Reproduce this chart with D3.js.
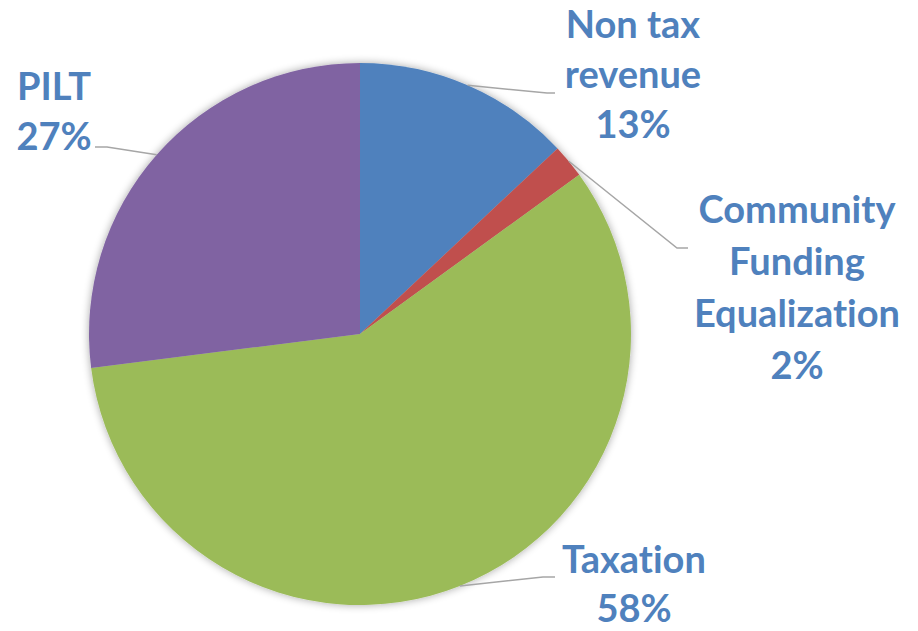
<!DOCTYPE html>
<html>
<head>
<meta charset="utf-8">
<script src="https://cdn.jsdelivr.net/npm/d3@7"></script>
<style>
    body { margin: 0; background: #fff; }
    .label { font-family: Lato, "Open Sans", sans-serif; font-weight: 700; fill: #4F81BD;
             font-variant-ligatures: none; font-feature-settings: "liga" 0, "dlig" 0; }
</style>
</head>
<body>
<div id="chart"></div>
<script>
// Revenue shares (percent)
var categories = ["Non tax revenue", "Community Funding Equalization", "Taxation", "PILT"];
var values     = [13, 2, 58, 27];
var labelLines = [["Non tax", "revenue", "13%"],
                  ["Community", "Funding", "Equalization", "2%"],
                  ["Taxation", "58%"],
                  ["PILT", "27%"]];
var colors     = ["#4F81BD", "#C0504D", "#9BBB59", "#8064A2"];

createChart();

function createChart() {
    var frame_width  = 918,
        frame_height = 631,
        cx = 360, cy = 334,
        radius = 271,
        fontSize = 38;

    // label layout: text centre x, first baseline y, line step, elbow point, end of leader
    var layout = [
        {tx: 633, ty: 38,  step: 50, elbow: [547, 93],  end: [555, 93]},
        {tx: 797, ty: 223, step: 52, elbow: [677, 248], end: [688, 248]},
        {tx: 634, ty: 573, step: 49, elbow: [543, 577], end: [555, 577]},
        {tx: 54,  ty: 100, step: 50, elbow: [107, 147], end: [95, 147]}
    ];

    var svg = d3.select("#chart").append("svg")
        .attr("width", frame_width)
        .attr("height", frame_height);

    var defs = svg.append("defs");
    var filter = defs.append("filter")
        .attr("id", "shadow")
        .attr("x", "-20%").attr("y", "-20%")
        .attr("width", "140%").attr("height", "140%");
    filter.append("feGaussianBlur")
        .attr("in", "SourceAlpha")
        .attr("stdDeviation", 4);
    filter.append("feComponentTransfer")
        .append("feFuncA").attr("type", "linear").attr("slope", 0.35);
    var merge = filter.append("feMerge");
    merge.append("feMergeNode");
    merge.append("feMergeNode").attr("in", "SourceGraphic");

    var pie = d3.pie().sort(null).value(function(d) { return d; });
    var arcs = pie(values);

    var arc = d3.arc().innerRadius(0).outerRadius(radius);

    var g = svg.append("g")
        .attr("transform", "translate(" + cx + "," + cy + ")");

    g.append("g")
        .attr("filter", "url(#shadow)")
        .selectAll("path")
        .data(arcs)
        .enter().append("path")
        .attr("d", arc)
        .attr("fill", function(d, i) { return colors[i]; });

    // leader lines from slice edge midpoint
    var edge = d3.arc().innerRadius(radius).outerRadius(radius);
    svg.selectAll("polyline.leader")
        .data(arcs)
        .enter().append("polyline")
        .attr("class", "leader")
        .attr("fill", "none")
        .attr("stroke", "#A6A6A6")
        .attr("stroke-width", 1.5)
        .attr("points", function(d, i) {
            var p = edge.centroid(d);
            var start = [cx + p[0], cy + p[1]];
            return [start, layout[i].elbow, layout[i].end].join(" ");
        });

    var labels = svg.selectAll("text.label")
        .data(arcs)
        .enter().append("text")
        .attr("class", "label")
        .attr("text-anchor", "middle")
        .style("font-size", fontSize + "px");

    labels.each(function(d, i) {
        var t = d3.select(this);
        labelLines[i].forEach(function(line, j) {
            t.append("tspan")
                .attr("x", layout[i].tx)
                .attr("y", layout[i].ty + j * layout[i].step)
                .text(line);
        });
    });
}
</script>
</body>
</html>
